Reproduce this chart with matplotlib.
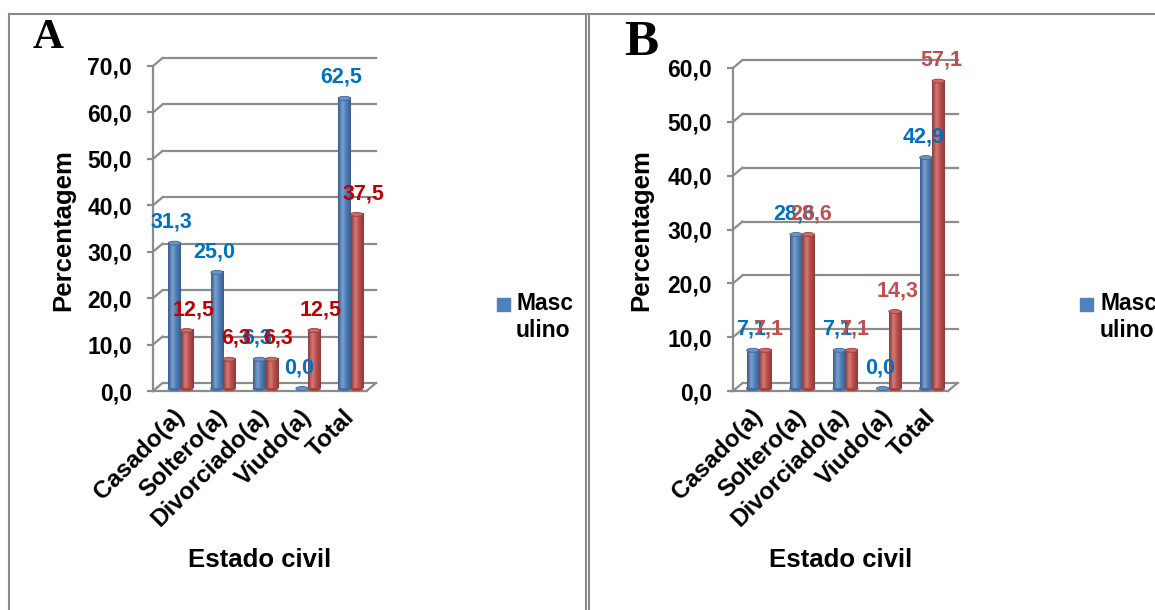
import numpy as np
import matplotlib
matplotlib.use("Agg")
import matplotlib.pyplot as plt
from matplotlib.colors import LinearSegmentedColormap, to_rgb
from matplotlib.patches import Ellipse, Rectangle
from matplotlib.lines import Line2D

categorias = ["Casado(a)", "Soltero(a)", "Divorciado(a)", "Viudo(a)", "Total"]

# painel A
masc_a = [31.3, 25.0, 6.3, 0.0, 62.5]
fem_a = [12.5, 6.3, 6.3, 12.5, 37.5]
ticks_a = [0, 10, 20, 30, 40, 50, 60, 70]

# painel B
masc_b = [7.1, 28.6, 7.1, 0.0, 42.9]
fem_b = [7.1, 28.6, 7.1, 14.3, 57.1]
ticks_b = [0, 10, 20, 30, 40, 50, 60]

legenda = "Masc\nulino"

AZUL = "#4F81BD"
VERMELHO = "#C0504D"
GRADE = "#8c8c8c"

plt.rcParams['font.family'] = ['Liberation Sans', 'DejaVu Sans']
plt.rcParams['font.weight'] = 'bold'

W, H = 1155, 610
fig = plt.figure(figsize=(W / 100, H / 100), dpi=100)


def mix(c, alvo, t):
    c = np.array(to_rgb(c))
    return tuple(c + (np.array(to_rgb(alvo)) - c) * t)


def cilindro_cmap(cor):
    escuro = mix(cor, "black", 0.28)
    claro = mix(cor, "white", 0.25)
    return LinearSegmentedColormap.from_list(
        "cil", [(0, escuro), (0.35, claro), (0.6, cor), (1, escuro)])


def painel(rect, xlim, ticks, masc, fem, cor_lab_m, cor_lab_f, dx_lab):
    ax = fig.add_axes(rect)
    x0, x1 = xlim
    y0, y1 = ticks[0], ticks[-1]
    ax.set_xlim(x0, x1)
    ax.set_ylim(y0, y1)

    # escala em pixels para o efeito 3D
    ux = rect[2] * W / (x1 - x0)
    uy = rect[3] * H / (y1 - y0)
    dxd, dyd = 9.5 / ux, 8.0 / uy
    lift = 2.5 / uy

    for s in ['top', 'right', 'bottom']:
        ax.spines[s].set_visible(False)
    ax.spines['left'].set_color(GRADE)
    ax.spines['left'].set_linewidth(1.6)
    ax.tick_params(axis='y', length=4, width=1.6, color=GRADE,
                   labelsize=16.5, pad=11)
    ax.tick_params(axis='x', length=0, labelsize=17.5, pad=16)
    ax.set_yticks(ticks)
    ax.set_yticklabels([f"{v:.1f}".replace('.', ',') for v in ticks])
    ax.set_xticks(range(len(categorias)))
    ax.set_xticklabels(categorias, rotation=45, ha='right',
                       rotation_mode='anchor', va='center')

    # parede de fundo, grade e piso
    for v in ticks:
        ax.plot([x0 + dxd, x1 + dxd], [v + dyd, v + dyd], color=GRADE,
                lw=1.6, clip_on=False, zorder=1)
        ax.plot([x0, x0 + dxd], [v, v + dyd], color=GRADE, lw=1.6,
                clip_on=False, zorder=1)
    ax.plot([x0, x1], [0, 0], color=GRADE, lw=1.6, clip_on=False, zorder=1)
    ax.plot([x1, x1 + dxd], [0, dyd], color=GRADE, lw=1.6, clip_on=False,
            zorder=1)

    w = 0.285
    xs = np.arange(len(categorias))
    eh = 4.0 / uy
    for serie, cor, off in [(masc, AZUL, -w / 2), (fem, VERMELHO, w / 2)]:
        barras = ax.bar(xs + off, serie, width=w, bottom=lift, color=cor,
                        zorder=3)
        cmap = cilindro_cmap(cor)
        grad = np.linspace(0, 1, 64).reshape(1, -1)
        for b, v in zip(barras, serie):
            bx = b.get_x()
            if v > 0:
                ax.imshow(grad, cmap=cmap, aspect='auto', zorder=3.5,
                          extent=[bx, bx + w, lift, lift + v])
                ax.add_patch(Ellipse((bx + w / 2, lift), w, eh,
                                     color=mix(cor, "black", 0.15),
                                     zorder=3.2))
            ax.add_patch(Ellipse((bx + w / 2, lift + v), w, eh,
                                 facecolor=mix(cor, "white", 0.15),
                                 edgecolor=mix(cor, "black", 0.2), lw=0.6,
                                 zorder=4))
    ax.set_xlim(x0, x1)
    ax.set_ylim(y0, y1)

    # rótulos de dados
    for serie, cor, off, dl in [(masc, cor_lab_m, -w / 2, dx_lab[0]),
                                (fem, cor_lab_f, w / 2, dx_lab[1])]:
        for i, v in enumerate(serie):
            ax.annotate(f"{v:.1f}".replace('.', ','),
                        (i + off, v + lift), xytext=(dl, 15),
                        textcoords='offset points', ha='center',
                        va='center', color=cor, fontsize=15.5,
                        fontweight='bold', zorder=6, annotation_clip=False)
    return ax


ax_a = painel([153 / W, 219 / H, 213.5 / W, 325 / H], (-0.647, 4.376),
              ticks_a, masc_a, fem_a, "#0070C0", "#C00000", (-2, 5))
ax_b = painel([733 / W, 219 / H, 215 / W, 323 / H], (-0.601, 4.37),
              ticks_b, masc_b, fem_b, "#0070C0", "#C0504D", (-1.5, 2))

# títulos dos eixos
for xc, xl in [(63, 260), (641, 841)]:
    fig.text(xc / W, 1 - 230 / H, "Percentagem", rotation=90, ha='center',
             va='center', fontsize=18.5, fontweight='bold')
    fig.text(xl / W, 1 - 560 / H, "Estado civil", ha='center', va='center',
             fontsize=18.5, fontweight='bold')

# legenda (só a primeira série aparece)
for qx, tx in [(497, 516), (1080, 1100)]:
    fig.add_artist(Rectangle((qx / W, 1 - 311 / H), 13 / W, 13 / H,
                             color=AZUL, transform=fig.transFigure))
    fig.text(tx / W, 1 - 292 / H, legenda, ha='left', va='top',
             fontsize=16.5, fontweight='bold', linespacing=1.2)

# letras dos painéis
fig.text(33 / W, 1 - 48 / H, "A", family='Liberation Serif',
         fontweight='bold', fontsize=31, va='baseline')
fig.text(624 / W, 1 - 55 / H, "B", family='Liberation Serif',
         fontweight='bold', fontsize=37, va='baseline')

# molduras
moldura = dict(color="#8a8a8a", lw=1.5, transform=fig.transFigure)
fig.add_artist(Line2D([9 / W, 1], [1 - 14 / H, 1 - 14 / H], **moldura))
for xv in [9, 586, 589]:
    fig.add_artist(Line2D([xv / W, xv / W], [0, 1 - 14 / H], **moldura))

fig.savefig("out.png", dpi=100)
